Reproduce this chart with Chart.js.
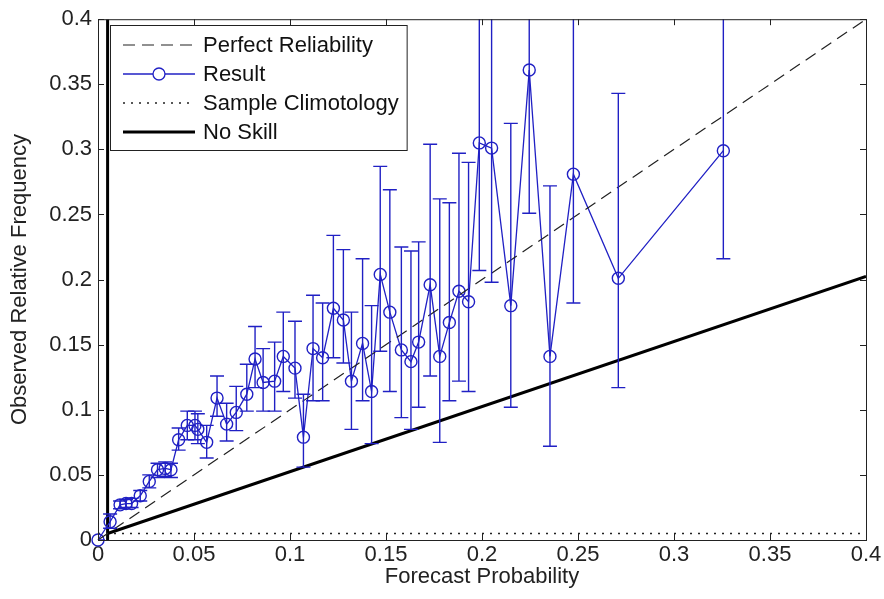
<!DOCTYPE html>
<html>
<head>
<meta charset="utf-8">
<script src="https://cdn.jsdelivr.net/npm/chart.js@4.4.0/dist/chart.umd.min.js"></script>
<style>
  html, body { margin: 0; padding: 0; background: #fff; }
  #contenedor { width: 884px; height: 599px; }
</style>
</head>
<body>
<div id="contenedor"><canvas id="miGrafico" width="884" height="599"></canvas></div>
<script>
// datos
const probX = [0.000, 0.0063, 0.0115, 0.0146, 0.0175, 0.022, 0.0267, 0.031, 0.035, 0.038,
               0.042, 0.0465, 0.0505, 0.052, 0.0566, 0.062, 0.067, 0.072, 0.0775, 0.0818,
               0.086, 0.092, 0.0965, 0.1026, 0.107, 0.112, 0.117, 0.1226, 0.1278, 0.132,
               0.1378, 0.1425, 0.147, 0.152, 0.158, 0.163, 0.167, 0.173, 0.178, 0.183,
               0.188, 0.193, 0.1986, 0.205, 0.215, 0.2246, 0.2354, 0.2476, 0.271, 0.3257];
const frecY = [0.000, 0.014, 0.027, 0.028, 0.028, 0.034, 0.045, 0.054, 0.055, 0.054,
               0.077, 0.088, 0.088, 0.085, 0.075, 0.109, 0.089, 0.098, 0.112, 0.139,
               0.121, 0.122, 0.141, 0.132, 0.079, 0.147, 0.140, 0.178, 0.169, 0.122,
               0.151, 0.114, 0.204, 0.175, 0.146, 0.137, 0.152, 0.196, 0.141, 0.167,
               0.191, 0.183, 0.305, 0.301, 0.180, 0.361, 0.141, 0.281, 0.201, 0.299];
const errBajo = [0.000, 0.009, 0.024, 0.025, 0.025, 0.030, 0.040, 0.048, 0.049, 0.048,
                 0.069, 0.077, 0.077, 0.074, 0.063, 0.095, 0.076, 0.084, 0.099, 0.117,
                 0.099, 0.099, 0.114, 0.109, 0.056, 0.107, 0.107, 0.140, 0.136, 0.085,
                 0.107, 0.074, 0.145, 0.114, 0.094, 0.085, 0.102, 0.126, 0.075, 0.107,
                 0.122, 0.114, 0.207, 0.198, 0.102, 0.251, 0.072, 0.182, 0.117, 0.216];
const errAlto = [0.000, 0.020, 0.030, 0.031, 0.032, 0.038, 0.050, 0.059, 0.060, 0.059,
                 0.086, 0.099, 0.099, 0.097, 0.088, 0.126, 0.105, 0.118, 0.135, 0.164,
                 0.147, 0.152, 0.175, 0.168, 0.112, 0.188, 0.182, 0.234, 0.223, 0.175,
                 0.216, 0.180, 0.287, 0.269, 0.225, 0.222, 0.229, 0.304, 0.262, 0.259,
                 0.297, 0.290, 0.450, 0.450, 0.320, 0.470, 0.272, 0.420, 0.343, 0.420];

const clima = 0.005; // climatologia de la muestra
const perfectaX = [0, 0.4];
const perfectaY = [0, 0.4];
const climaX = [0, 0.4];
const climaY = [clima, clima];
const sinHabX = [clima, 0.4];
const sinHabY = [clima, 0.2025];
const verticalX = [clima, clima];
const verticalY = [0, 0.4];

const marcasX = [0, 0.05, 0.1, 0.15, 0.2, 0.25, 0.3, 0.35, 0.4];
const etiquetasX = ["0", "0.05", "0.1", "0.15", "0.2", "0.25", "0.3", "0.35", "0.4"];
const marcasY = [0, 0.05, 0.1, 0.15, 0.2, 0.25, 0.3, 0.35, 0.4];
const etiquetasY = ["0", "0.05", "0.1", "0.15", "0.2", "0.25", "0.3", "0.35", "0.4"];

const nombres = ["Perfect Reliability", "Result", "Sample Climotology", "No Skill"];

const azul = "#2020c4";
const fuente = "'Liberation Sans', Arial, sans-serif";

function pares(xs, ys) {
  return xs.map((x, i) => ({ x: x, y: ys[i] }));
}

const extras = {
  id: "extras",
  afterDatasetsDraw(chart) {
    const c = chart.ctx;
    const sx = chart.scales.x, sy = chart.scales.y;
    const area = chart.chartArea;
    c.save();
    c.beginPath();
    c.rect(area.left, area.top, area.right - area.left, area.bottom - area.top);
    c.clip();
    c.strokeStyle = azul;
    c.lineWidth = 1.4;
    probX.forEach((x, i) => {
      const px = sx.getPixelForValue(x);
      const y1 = sy.getPixelForValue(errBajo[i]);
      const y2 = sy.getPixelForValue(errAlto[i]);
      c.beginPath();
      c.moveTo(px, y1); c.lineTo(px, y2);
      c.moveTo(px - 7, y1); c.lineTo(px + 7, y1);
      c.moveTo(px - 7, y2); c.lineTo(px + 7, y2);
      c.stroke();
    });
    c.restore();
  },
  afterDraw(chart) {
    const c = chart.ctx;
    const { left, right, top, bottom } = chart.chartArea;
    const sx = chart.scales.x, sy = chart.scales.y;
    c.save();
    // marco
    c.strokeStyle = "#222";
    c.lineWidth = 1;
    c.strokeRect(left + 0.5, top + 0.5, right - left, bottom - top);
    c.beginPath();
    marcasX.forEach(v => {
      const p = Math.round(sx.getPixelForValue(v)) + 0.5;
      c.moveTo(p, bottom); c.lineTo(p, bottom - 6);
      c.moveTo(p, top); c.lineTo(p, top + 6);
    });
    marcasY.forEach(v => {
      const p = Math.round(sy.getPixelForValue(v)) + 0.5;
      c.moveTo(left, p); c.lineTo(left + 6, p);
      c.moveTo(right, p); c.lineTo(right - 6, p);
    });
    c.stroke();

    // leyenda
    c.font = "22px " + fuente;
    let ancho = 0;
    nombres.forEach(n => { ancho = Math.max(ancho, c.measureText(n).width); });
    const bx = 110, by = 25, bw = 203 + ancho + 8 - bx, bh = 125;
    c.fillStyle = "#fff";
    c.fillRect(bx, by, bw, bh);
    c.strokeStyle = "#222";
    c.strokeRect(bx + 0.5, by + 0.5, bw, bh);
    const filas = [45, 74, 103, 132];
    const ds = chart.data.datasets;
    filas.forEach((fy, i) => {
      const d = ds[i];
      c.beginPath();
      c.strokeStyle = d.borderColor;
      c.lineWidth = d.borderWidth;
      c.setLineDash(d.borderDash || []);
      c.moveTo(123, fy); c.lineTo(195, fy);
      c.stroke();
      c.setLineDash([]);
      if (d.pointRadius > 0) {
        c.beginPath();
        c.lineWidth = 1.3;
        c.arc(159, fy, 6, 0, Math.PI * 2);
        c.fillStyle = "#fff";
        c.fill();
        c.stroke();
      }
      c.fillStyle = "#111";
      c.textBaseline = "middle";
      c.textAlign = "left";
      c.fillText(nombres[i], 203, fy + 1);
    });
    c.restore();
  }
};

const ctx = document.getElementById("miGrafico").getContext("2d");
const chart = new Chart(ctx, {
  type: "scatter",
  data: {
    datasets: [
      {
        label: nombres[0],
        data: pares(perfectaX, perfectaY),
        showLine: true,
        borderColor: "#222",
        borderWidth: 1.2,
        borderDash: [12, 7],
        pointRadius: 0
      },
      {
        label: nombres[1],
        data: pares(probX, frecY),
        showLine: true,
        borderColor: azul,
        borderWidth: 1.3,
        pointRadius: 6,
        pointBorderColor: azul,
        pointBackgroundColor: "rgba(0,0,0,0)",
        pointBorderWidth: 1.4,
        clip: false
      },
      {
        label: nombres[2],
        data: pares(climaX, climaY),
        showLine: true,
        borderColor: "#222",
        borderWidth: 1.5,
        borderDash: [2, 6],
        pointRadius: 0
      },
      {
        label: nombres[3],
        data: pares(sinHabX, sinHabY),
        showLine: true,
        borderColor: "#000",
        borderWidth: 3,
        pointRadius: 0
      },
      {
        label: "vertical",
        data: pares(verticalX, verticalY),
        showLine: true,
        borderColor: "#000",
        borderWidth: 3,
        pointRadius: 0
      }
    ]
  },
  options: {
    responsive: false,
    animation: false,
    devicePixelRatio: 1,
    layout: { padding: { left: 0, right: 18, top: 15, bottom: 0 } },
    plugins: { legend: { display: false }, tooltip: { enabled: false } },
    scales: {
      x: {
        type: "linear",
        min: 0, max: 0.4,
        afterBuildTicks: s => { s.ticks = marcasX.map(v => ({ value: v })); },
        afterFit: s => { s.height = 59; },
        ticks: {
          callback: (v, i) => etiquetasX[i],
          color: "#222",
          font: { family: fuente, size: 22 },
          padding: 2,
          maxRotation: 0,
          autoSkip: false
        },
        grid: { display: false, drawTicks: false },
        border: { display: false },
        title: {
          display: true,
          text: "Forecast Probability",
          color: "#222",
          font: { family: fuente, size: 22 },
          padding: { top: 0, bottom: 9 }
        }
      },
      y: {
        type: "linear",
        min: 0, max: 0.4,
        afterBuildTicks: s => { s.ticks = marcasY.map(v => ({ value: v })); },
        afterFit: s => { s.width = 98; },
        ticks: {
          callback: (v, i) => etiquetasY[i],
          color: "#222",
          font: { family: fuente, size: 22 },
          padding: 6,
          autoSkip: false
        },
        grid: { display: false, drawTicks: false },
        border: { display: false },
        title: {
          display: true,
          text: "Observed Relative Frequency",
          color: "#222",
          font: { family: fuente, size: 22 },
          padding: { top: 7, bottom: 0 }
        }
      }
    }
  },
  plugins: [extras]
});
</script>
</body>
</html>
